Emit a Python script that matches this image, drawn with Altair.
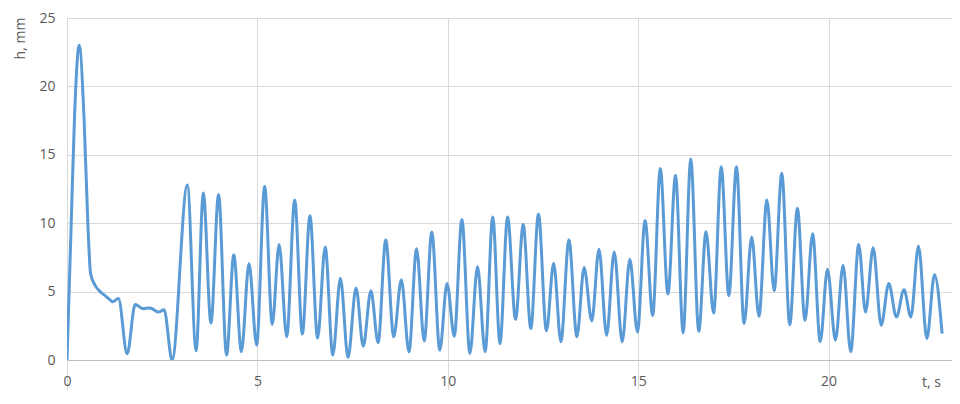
import altair as alt
import pandas as pd

# time, s
t_s = [0.0, 0.1, 0.2, 0.32, 0.45, 0.55, 0.62, 0.75, 0.87, 1.0, 1.13, 1.2, 1.35, 1.58, 1.79,
       2.0, 2.18, 2.4, 2.55, 2.76,
       3.16, 3.39, 3.58, 3.78, 3.98, 4.19, 4.38, 4.58, 4.78, 4.98,
       5.19, 5.39, 5.57, 5.77, 5.98, 6.18, 6.38, 6.58, 6.78, 6.98,
       7.18, 7.38, 7.59, 7.78, 7.98, 8.17, 8.37, 8.58, 8.78, 8.98,
       9.18, 9.38, 9.58, 9.79, 9.98, 10.17, 10.37, 10.58, 10.78, 10.98,
       11.18, 11.37, 11.57, 11.78, 11.98, 12.18, 12.38, 12.59, 12.78, 12.97,
       13.18, 13.39, 13.58, 13.78, 13.97, 14.17, 14.37, 14.58, 14.78, 14.98,
       15.18, 15.38, 15.58, 15.78, 15.98, 16.18, 16.38, 16.59, 16.78, 16.98,
       17.18, 17.38, 17.58, 17.78, 17.98, 18.17, 18.38, 18.57, 18.77, 18.98,
       19.18, 19.38, 19.58, 19.78, 19.97, 20.18, 20.38, 20.58, 20.79, 20.97,
       21.17, 21.38, 21.58, 21.78, 21.98, 22.16, 22.36, 22.58, 22.78, 22.98]

# height, mm
h_mm = [0.0, 9.0, 18.0, 23.0, 17.5, 9.8, 6.3, 5.4, 5.0, 4.7, 4.4, 4.25, 4.5, 0.45, 4.05,
        3.75, 3.8, 3.5, 3.67, 0.0,
        12.8, 0.67, 12.2, 2.7, 12.1, 0.36, 7.7, 0.6, 7.05, 1.09,
        12.7, 2.6, 8.45, 1.7, 11.7, 1.9, 10.55, 1.6, 8.26, 0.36,
        5.97, 0.19, 5.27, 1.0, 5.07, 1.26, 8.77, 1.7, 5.87, 0.6,
        8.14, 1.38, 9.35, 0.72, 5.6, 1.74, 10.27, 0.48, 6.84, 0.6,
        10.46, 1.2, 10.46, 2.97, 9.9, 2.3, 10.68, 2.13, 7.08, 1.33,
        8.77, 1.7, 6.76, 2.85, 8.1, 1.8, 7.9, 1.33, 7.37, 2.05,
        10.2, 3.26, 14.0, 4.83, 13.5, 1.98, 14.7, 2.1, 9.37, 3.43,
        14.13, 4.7, 14.13, 2.66, 8.99, 3.19, 11.7, 5.07, 13.65, 2.58,
        11.1, 2.9, 9.22, 1.33, 6.64, 1.45, 6.93, 0.6, 8.45, 3.5,
        8.2, 2.54, 5.6, 3.14, 5.14, 3.14, 8.33, 1.57, 6.23, 1.93]

x_ticks = [0, 5, 10, 15, 20]
y_ticks = [0, 5, 10, 15, 20, 25]

df = pd.DataFrame({"t": t_s, "h": h_mm})

GRID = "#d9d9d9"
TXT = "#595959"
FONT = "Open Sans"

chart = alt.Chart(df).mark_line(
    interpolate="monotone", color="#5b9bd5", strokeWidth=3, clip=True
).encode(
    x=alt.X("t:Q",
            scale=alt.Scale(domain=[0, 23.24], nice=False, zero=True),
            axis=alt.Axis(values=x_ticks, title="t, s", grid=True, gridColor=GRID,
                          domainColor="#bfbfbf", tickColor=GRID, tickSize=30,
                          labelPadding=-16, labelFlush=False, labelColor=TXT,
                          labelFont=FONT, labelFontSize=14,
                          titleFont=FONT, titleFontSize=14, titleFontWeight="normal",
                          titleColor=TXT, titleX=864, titleY=22, titleAlign="center",
                          titleBaseline="middle", zindex=0)),
    y=alt.Y("h:Q",
            scale=alt.Scale(domain=[0, 25], nice=False),
            axis=alt.Axis(values=y_ticks, title="h, mm", grid=True, gridColor=GRID,
                          domain=False, ticks=False, labelPadding=12, labelColor=TXT,
                          labelFont=FONT, labelFontSize=14,
                          titleFont=FONT, titleFontSize=14, titleFontWeight="normal",
                          titleColor=TXT, titleX=-47, titleY=20, titleAlign="center",
                          titleBaseline="middle", titleAngle=270, zindex=0)),
).properties(
    width=885, height=342,
    autosize=alt.AutoSizeParams(type="none"),
    padding={"left": 59, "top": 10, "right": 0, "bottom": 30},
).configure_view(stroke=None).configure(background="white")

chart.save("out.html", embed_options={"renderer": "svg", "actions": False})
